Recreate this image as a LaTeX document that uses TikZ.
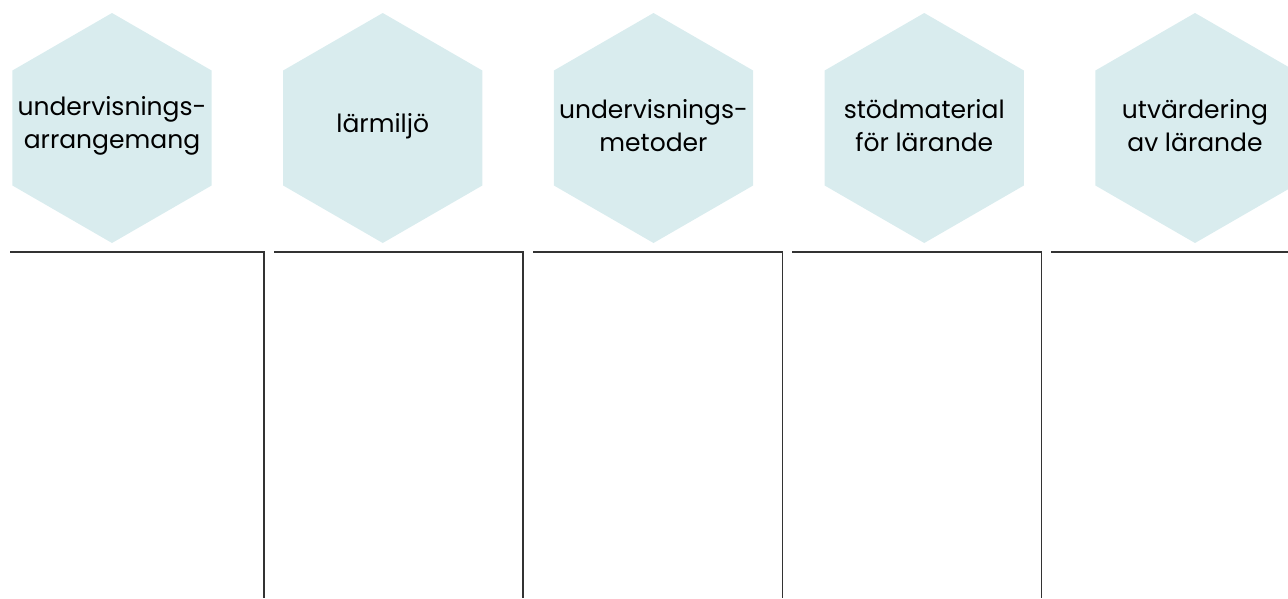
\documentclass[tikz,border=0pt]{standalone}
\usepackage{fontspec}
\setmainfont{Poppins}
\usetikzlibrary{shapes.geometric}
\definecolor{hexfill}{HTML}{D9ECEE}
\definecolor{rulegray}{HTML}{333333}
\tikzset{
  hexagon/.style={regular polygon, regular polygon sides=6, shape border rotate=30,
    fill=hexfill, minimum size=230pt, inner sep=0pt, outer sep=0pt},
  hexlabel/.style={align=center, font=\fontsize{25}{33}\selectfont},
  colrule/.style={rulegray, line width=1.2pt}
}
\begin{document}
\begin{tikzpicture}[x=1pt,y=-1pt]
    \useasboundingbox (0,0) rectangle (1288,598);
    \foreach \i/\txt in {0/{undervisnings-\\arrangemang},1/{lärmiljö},2/{undervisnings-\\metoder},3/{stödmaterial\\för lärande},4/{utvärdering\\av lärande}}
        {\node[hexagon] (hex\i) at ({112+270.75*\i},128) {};
         \node[hexlabel] (lbl\i) at ([yshift=2pt]hex\i.center) {\txt};
        }
    \foreach \s/\e in {10/264,274/523,533/782.5,792/1041.5}
        {\draw[colrule] (\s,252) -| (\e,598);
        }
    \draw[colrule] (1051,252) -- (1288,252);
\end{tikzpicture}
\end{document}
